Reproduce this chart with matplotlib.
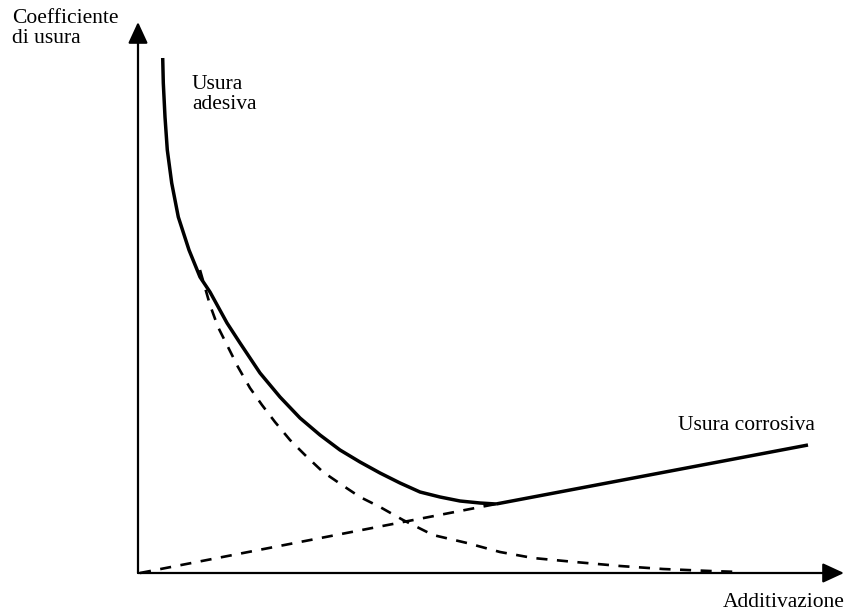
import matplotlib
matplotlib.use('Agg')
import matplotlib.pyplot as plt

plt.rcParams['font.family'] = ['Liberation Serif', 'DejaVu Serif']

# solid curve: adhesive wear (falling)
adesiva_x = [24.7, 25.3, 27, 29.3, 33.7, 40.3, 51, 62, 72, 89, 102, 122, 142, 162,
             182, 202, 222, 242, 262, 282, 302, 322, 342, 358]
adesiva_y = [515, 490, 456, 423, 390, 356, 323, 296, 281, 250, 230, 200, 176, 155,
             138, 123, 111, 100, 90, 81, 76, 72, 70, 69]
# solid straight part: corrosive wear
corrosiva_x = [358, 670]
corrosiva_y = [69, 128]

# dashed decay curve
decay_x = [62, 72, 80, 90, 100, 112, 124, 137, 152, 167, 185, 204, 222, 242, 265,
           295, 329, 362, 395, 437, 482, 525, 572, 602]
decay_y = [303, 268, 246, 226, 206, 185, 168, 151, 133, 118, 101, 88, 76, 66, 53,
           38, 30, 21, 15, 11, 7, 4, 2, 1]

# dashed rising line
rise_x = [2, 358]
rise_y = [0, 69]

fig = plt.figure(figsize=(8.51, 6.12), dpi=100)
ax = fig.add_axes([0, 0, 1, 1])
ax.set_xlim(-138, 713)
ax.set_ylim(-39, 573)
ax.axis('off')

# axes with arrow heads
arrow = dict(arrowstyle='-|>,head_length=1.3,head_width=0.6', lw=1.6,
             color='black', shrinkA=0, shrinkB=0, mutation_scale=10)
ax.annotate('', xy=(706, 0), xytext=(0, 0), arrowprops=arrow)
ax.annotate('', xy=(0, 551), xytext=(0, 0), arrowprops=arrow)

ax.plot(adesiva_x, adesiva_y, color='black', lw=2.5, solid_capstyle='butt',
        solid_joinstyle='round')
ax.plot(corrosiva_x, corrosiva_y, color='black', lw=2.5, solid_capstyle='butt')
ax.plot(decay_x, decay_y, color='black', lw=1.9, dashes=(4.2, 3.6))
ax.plot(rise_x, rise_y, color='black', lw=1.9, dashes=(4.2, 3.6))

fs = 15.5
ax.text(-126, 564, 'Coefficiente\ndi usura', fontsize=fs, va='top', ha='left',
        linespacing=1.05)
ax.text(54, 498, 'Usura\nadesiva', fontsize=fs, va='top', ha='left', linespacing=1.05)
ax.text(540, 143, 'Usura corrosiva', fontsize=fs, va='baseline', ha='left')
ax.text(585, -34, 'Additivazione', fontsize=fs, va='baseline', ha='left')

fig.savefig('out.png', dpi=100, facecolor='white')
